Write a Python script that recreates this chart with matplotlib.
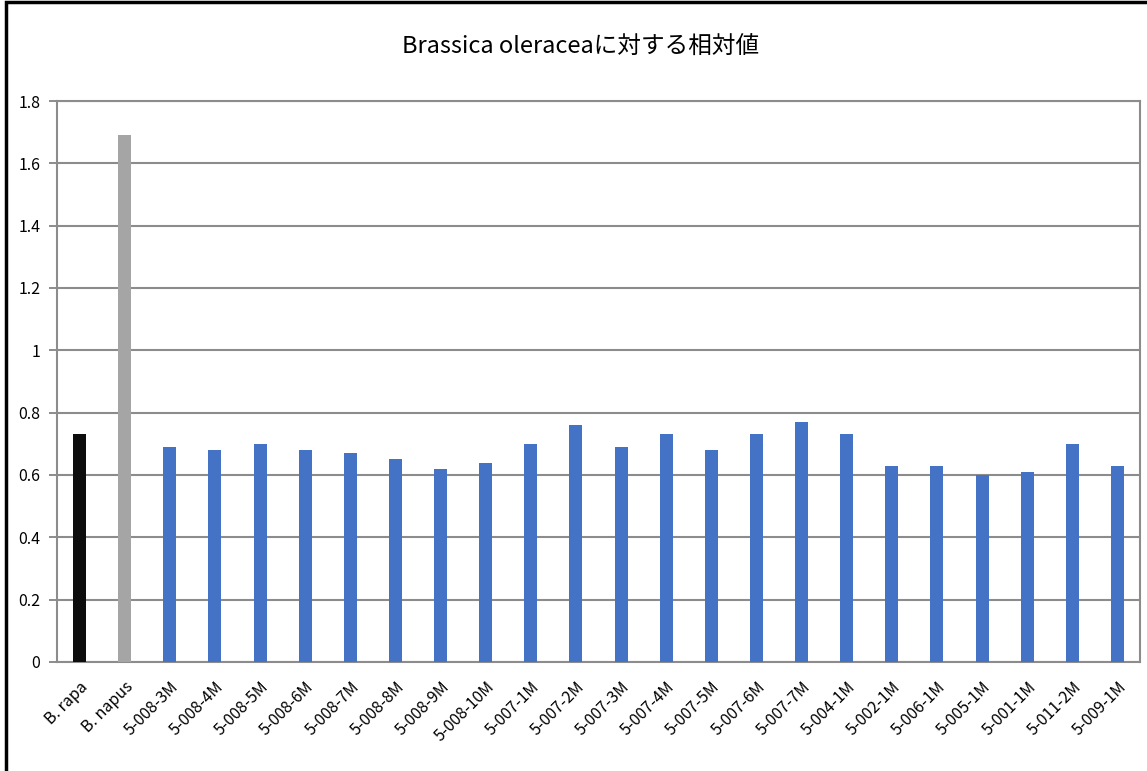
import matplotlib.pyplot as plt
from matplotlib.patches import Rectangle

plt.rcParams['font.family'] = ['Noto Sans CJK JP', 'DejaVu Sans']

labels = ['B. rapa', 'B. napus',
          '5-008-3M', '5-008-4M', '5-008-5M', '5-008-6M', '5-008-7M',
          '5-008-8M', '5-008-9M', '5-008-10M',
          '5-007-1M', '5-007-2M', '5-007-3M', '5-007-4M', '5-007-5M',
          '5-007-6M', '5-007-7M',
          '5-004-1M', '5-002-1M', '5-006-1M', '5-005-1M', '5-001-1M',
          '5-011-2M', '5-009-1M']
values = [0.73, 1.69,
          0.69, 0.68, 0.70, 0.68, 0.67, 0.65, 0.62, 0.64,
          0.70, 0.76, 0.69, 0.73, 0.68, 0.73, 0.77,
          0.73, 0.63, 0.63, 0.60, 0.61, 0.70, 0.63]
yticks = [0, 0.2, 0.4, 0.6, 0.8, 1, 1.2, 1.4, 1.6, 1.8]
ytick_labels = ['0', '0.2', '0.4', '0.6', '0.8', '1', '1.2', '1.4', '1.6', '1.8']

colors = ['#0d0d0d', '#a5a5a5'] + ['#4472c4'] * (len(values) - 2)
grid_color = '#8c8c8c'

fig = plt.figure(figsize=(11.47, 7.71), dpi=100)
ax = fig.add_axes([0.0497, 0.1414, 0.9442, 0.7276])

x = range(len(values))
ax.bar(x, values, width=0.29, color=colors, zorder=3)

ax.set_xlim(-0.5, len(values) - 0.5)
ax.set_ylim(0, 1.8)
ax.set_yticks(yticks)
ax.set_yticklabels(ytick_labels, fontsize=11.5)
ax.set_xticks(list(x))
ax.set_xticklabels(labels, rotation=45, ha='right', rotation_mode='anchor',
                   fontsize=11.5)
ax.tick_params(axis='x', length=0, pad=12)
ax.tick_params(axis='y', length=6, width=1.4, color=grid_color, pad=6)

ax.yaxis.grid(True, color=grid_color, linewidth=1.5, zorder=0)
for s in ax.spines.values():
    s.set_color(grid_color)
    s.set_linewidth(1.5)

fig.suptitle('Brassica oleraceaに対する相対値', x=0.506, y=0.953, fontsize=17)

# outer frame of the chart object
fig.patches.append(Rectangle((0.005, -0.02), 1.1, 1.017, transform=fig.transFigure,
                             fill=False, edgecolor='black', linewidth=2.5))

fig.savefig('out.png', dpi=100)
